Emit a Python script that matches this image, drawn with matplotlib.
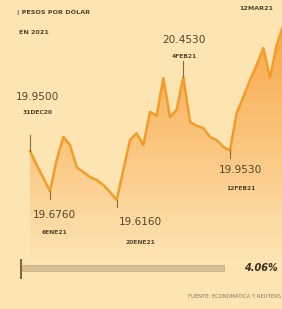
import matplotlib
matplotlib.use("Agg")
import matplotlib.pyplot as plt
import numpy as np
from matplotlib.patches import Polygon, Rectangle

# tipo de cambio diario (pesos por dólar), días hábiles desde 31-dic-2020
values = [19.950, 19.854, 19.766, 19.676, 19.888, 20.045, 19.990, 19.840,
          19.806, 19.772, 19.752, 19.718, 19.670, 19.616, 19.820, 20.024,
          20.070, 19.990, 20.215, 20.190, 20.446, 20.180, 20.230, 20.453,
          20.147, 20.120, 20.106, 20.045, 20.024, 19.977, 19.953, 20.208,
          20.317, 20.432, 20.534, 20.650, 20.446, 20.670, 20.806]
days = np.arange(len(values))

# etiquetas: (índice, valor, fecha)
labels = [(0, "19.9500", "31DEC20"), (3, "19.6760", "6ENE21"),
          (13, "19.6160", "20ENE21"), (23, "20.4530", "4FEB21"),
          (30, "19.9530", "12FEB21")]
pct_change = "4.06%"

W, H = 282, 309
bg = "#fde4b3"
line_c = "#f39c2a"
txt_c = "#54452c"

fig = plt.figure(figsize=(W / 100, H / 100), dpi=100, facecolor=bg)
ax = fig.add_axes([0, 0, 1, 1])
ax.set_facecolor(bg)
xmin, xmax = -4.5, 37.8
ytop, ybot = 20.977, 18.874
ax.set_xlim(xmin, xmax)
ax.set_ylim(ybot, ytop)
ax.axis("off")

def px(x, y):
    return x / W, 1 - y / H

# gradient fill under the line
fill_floor = 19.20
verts = [(days[0], fill_floor)] + list(zip(days, values)) + [(days[-1], fill_floor)]
poly = Polygon(verts, closed=True, facecolor="none", edgecolor="none")
ax.add_patch(poly)
top_rgb = np.array([247, 165, 70]) / 255
bot_rgb = np.array([253, 228, 179]) / 255
t = np.linspace(0, 1, 256)[:, None]
grad = (top_rgb * (1 - t) + bot_rgb * t)[:, None, :]
im = ax.imshow(grad, extent=[xmin, xmax, fill_floor, 20.85], aspect="auto",
               origin="upper", zorder=1)
im.set_clip_path(poly)

ax.plot(days, values, color=line_c, lw=1.8, zorder=3, solid_joinstyle="round")

# leader ticks at annotated points
for i, lab, d in labels:
    v = values[i]
    if i in (0, 23):
        ax.plot([i, i], [v, v + 0.11], color="#8a6a3a", lw=0.8, zorder=4)
    else:
        ax.plot([i, i], [v, v - 0.05], color="#8a6a3a", lw=0.8, zorder=4)

# header
fig.text(*px(17, 12), "| PESOS POR DÓLAR", fontsize=4.6, color=txt_c,
         fontweight="bold", va="center", ha="left")
fig.text(*px(19, 32), "EN 2021", fontsize=4.6, color=txt_c,
         fontweight="bold", va="center", ha="left")
fig.text(*px(256, 8), "12MAR21", fontsize=4.6, color=txt_c,
         fontweight="bold", va="center", ha="center")

# value labels
pos = {0: (38, 97, 112), 3: (54, 215, 232), 13: (140, 222, 243),
       23: (184, 40, 57), 30: (241, 170, 188)}
for i, lab, d in labels:
    cx, y1, y2 = pos[i]
    fig.text(*px(cx, y1), lab, fontsize=7.6, color=txt_c, va="center",
             ha="center")
    fig.text(*px(cx, y2), d, fontsize=4.3, color=txt_c, va="center",
             ha="center", fontweight="bold")

# change bar
fig.add_artist(Rectangle(px(22, 271), 202 / W, 6 / H, transform=fig.transFigure,
                         facecolor="#d8c096", edgecolor="#c7ab7c", lw=0.5))
fig.add_artist(Rectangle(px(20, 279), 2 / W, 20 / H, transform=fig.transFigure,
                         facecolor="#7d6644", edgecolor="none"))
fig.text(*px(278, 268), pct_change, fontsize=7, color="#3c2f1a",
         fontweight="bold", va="center", ha="right", style="italic")

fig.text(*px(281, 297), "FUENTE: ECONOMÁTICA Y REUTERS", fontsize=3.8,
         color="#8a7a5a", va="center", ha="right")

fig.savefig("out.png", dpi=100, facecolor=bg)
